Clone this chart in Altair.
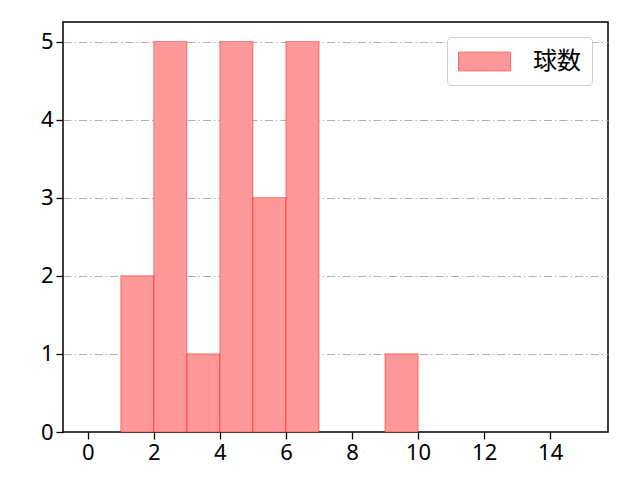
import altair as alt
import pandas as pd

# histogram data
bin_starts = [1, 2, 3, 4, 5, 6, 9]
bin_ends = [2, 3, 4, 5, 6, 7, 10]
counts = [2, 5, 1, 5, 3, 5, 1]
series_name = "球数"
x_ticks = [0, 2, 4, 6, 8, 10, 12, 14]
y_ticks = [0, 1, 2, 3, 4, 5]

df = pd.DataFrame({
    "start": bin_starts,
    "end": bin_ends,
    "count": counts,
    "series": [series_name] * len(counts),
})

CJK_FONT = "Noto Sans CJK JP"
TICK_FONT = "Noto Sans"

bars = alt.Chart(df).mark_rect(
    stroke="red", strokeOpacity=0.4, strokeWidth=1.2, opacity=1
).encode(
    x=alt.X("start:Q",
            scale=alt.Scale(domain=[-0.75, 15.75], nice=False, zero=False),
            axis=alt.Axis(values=x_ticks, title=None, grid=False, format="d")),
    x2="end:Q",
    y=alt.Y("count:Q",
            scale=alt.Scale(domain=[0, 5.25], nice=False),
            axis=alt.Axis(values=y_ticks, title=None, grid=True, format="d",
                          gridColor="#b0b0b0", gridDash=[8, 3, 1.5, 3],
                          gridWidth=1,
                          gridOpacity={"condition": {"test": "datum.value === 0", "value": 0},
                                       "value": 1})),
    y2=alt.datum(0),
    fill=alt.Fill("series:N",
                  scale=alt.Scale(domain=[series_name], range=["#ff9999"]),
                  legend=alt.Legend(
                      title=None, orient="none", legendX=384, legendY=15,
                      symbolType="M-2,-0.72H2V0.72H-2Z",
                      symbolSize=676, symbolOffset=13,
                      symbolStrokeColor="#ff6666",
                      symbolStrokeWidth=1, symbolFillColor="#ff9999",
                      labelFontSize=24, labelFont=CJK_FONT,
                      labelColor="black", labelOffset=35,
                      padding=11, cornerRadius=4, strokeColor="#cccccc",
                      fillColor="white")),
)

chart = bars.properties(
    width=545, height=410,
    autosize=alt.AutoSizeParams(type="none"),
    padding={"left": 55, "top": 14, "right": 24, "bottom": 40},
).configure_view(
    stroke="black", strokeWidth=1.5
).configure_axis(
    domain=False, tickColor="black", tickSize=7, tickWidth=1.3,
    labelFontSize=22, labelFont=TICK_FONT, labelColor="black", labelPadding=3,
)

chart.save("out.html", embed_options={"renderer": "svg", "actions": False})
